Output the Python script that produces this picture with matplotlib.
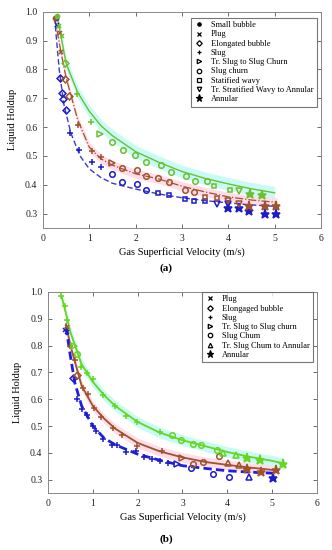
#!/usr/bin/env python3

"""Liquid holdup vs gas superficial velocity, two panels (a) and (b)."""

import matplotlib.pyplot as plt

plt.rcParams["font.family"] = ["Liberation Serif", "DejaVu Serif"]

BLUE = "#1c1cc8"
BROWN = "#a0522d"
GREEN_A = "#6cbf2e"
GREEN_B = "#66d61e"
CYAN_BAND = "#c8fbf6"
PINK_BAND = "#ffdce9"

# ---------------- panel (a) data ----------------
a_green_curve_x = [0.3, 0.5, 0.75, 1.0, 1.25, 1.5, 2.0, 2.5, 3.0, 3.5, 4.0, 4.5, 5.0]
a_green_curve_y = [0.99, 0.82, 0.72, 0.655, 0.605, 0.57, 0.515, 0.478, 0.446, 0.422, 0.403, 0.386, 0.372]
a_brown_curve_x = [0.25, 0.4, 0.5, 0.75, 1.0, 1.25, 1.5, 2.0, 2.5, 3.0, 3.5, 4.0, 4.5, 5.05]
a_brown_curve_y = [0.98, 0.85, 0.77, 0.625, 0.53, 0.49, 0.468, 0.438, 0.42, 0.395, 0.375, 0.358, 0.347, 0.339]
a_blue_curve_x = [0.25, 0.35, 0.45, 0.6, 0.8, 1.0, 1.25, 1.5, 2.0, 2.5, 3.0, 3.5, 4.0, 4.5, 5.03]
a_blue_curve_y = [0.98, 0.8, 0.68, 0.58, 0.5, 0.455, 0.425, 0.405, 0.385, 0.368, 0.355, 0.345, 0.337, 0.33, 0.325]

a_blue = {
    "o_small": ([0.29], [0.978]),
    "x": ([0.3], [0.955]),
    "D": ([0.37, 0.4, 0.44, 0.5], [0.772, 0.719, 0.696, 0.661]),
    "+": ([0.58, 0.78, 1.05, 1.25], [0.578, 0.52, 0.478, 0.46]),
    "o": ([1.5, 1.7, 2.03, 2.22], [0.438, 0.411, 0.402, 0.382]),
    "s": ([2.49, 2.71, 3.07, 3.27, 3.49], [0.37, 0.366, 0.35, 0.344, 0.342]),
    "v": ([3.75, 3.99], [0.332, 0.333]),
    "*": ([3.99, 4.23, 4.44, 4.79, 5.03], [0.32, 0.32, 0.31, 0.3, 0.3]),
}
a_brown = {
    "o_small": ([0.27], [0.98]),
    "x": ([0.37, 0.38], [0.927, 0.86]),
    "D": ([0.48, 0.57], [0.767, 0.708]),
    "+": ([0.75, 1.05, 1.25], [0.606, 0.517, 0.498]),
    ">": ([1.5], [0.476]),
    "o": ([1.7, 2.03, 2.22, 2.48, 2.71, 3.07, 3.27], [0.459, 0.45, 0.43, 0.423, 0.411, 0.382, 0.376]),
    "s": ([3.49, 3.75], [0.359, 0.354]),
    "v": ([3.99, 4.23], [0.344, 0.332]),
    "*": ([4.44, 4.79, 5.03], [0.327, 0.327, 0.327]),
}
a_green = {
    "o_small": ([0.31], [0.987]),
    "x": ([0.35, 0.4], [0.95, 0.916]),
    "D": ([0.48], [0.821]),
    "+": ([0.73, 1.04], [0.714, 0.618]),
    ">": ([1.23], [0.577]),
    "o": ([1.49, 1.72, 1.98, 2.22, 2.55, 2.77, 3.09, 3.29, 3.55],
          [0.548, 0.519, 0.502, 0.48, 0.468, 0.444, 0.432, 0.414, 0.414]),
    "s": ([3.69, 4.04], [0.395, 0.383]),
    "v": ([4.23], [0.377]),
    "*": ([4.48, 4.73], [0.368, 0.366]),
}
a_legend = [
    ("o_small", "Small bubble"), ("x", "Plug"), ("D", "Elongated bubble"),
    ("+", "Slug"), (">", "Tr. Slug to Slug Churn"), ("o", "Slug churn"),
    ("s", "Statified wavy"), ("v", "Tr. Stratified Wavy to Annular"), ("*", "Annular"),
]

# ---------------- panel (b) data ----------------
b_green_curve_x = [0.3, 0.4, 0.5, 0.75, 1.0, 1.25, 1.5, 2.0, 2.5, 3.0, 3.5, 4.0, 4.5, 5.0, 5.27]
b_green_curve_y = [0.985, 0.92, 0.85, 0.73, 0.665, 0.615, 0.575, 0.515, 0.475, 0.447, 0.425, 0.403, 0.385, 0.37, 0.36]
b_brown_curve_x = [0.4, 0.5, 0.75, 1.0, 1.25, 1.5, 2.0, 2.5, 3.0, 3.5, 4.0, 4.5, 5.07]
b_brown_curve_y = [0.88, 0.8, 0.65, 0.575, 0.528, 0.49, 0.437, 0.405, 0.383, 0.366, 0.355, 0.345, 0.335]
b_blue_curve_x = [0.4, 0.5, 0.6, 0.75, 1.0, 1.25, 1.5, 2.0, 2.5, 3.0, 3.5, 4.0, 4.5, 5.03]
b_blue_curve_y = [0.87, 0.76, 0.66, 0.575, 0.5, 0.455, 0.43, 0.395, 0.372, 0.352, 0.342, 0.333, 0.328, 0.324]

b_blue = {
    "x": ([0.38, 0.42], [0.86, 0.85]),
    "D": ([0.55], [0.68]),
    "+": ([0.65, 0.75, 0.87, 1.01, 1.06, 1.22, 1.42, 1.55, 1.75, 1.97, 2.14, 2.31, 2.5, 2.68],
          [0.6, 0.565, 0.54, 0.5, 0.48, 0.45, 0.43, 0.43, 0.403, 0.405, 0.383, 0.376, 0.368, 0.362]),
    ">": ([2.87], [0.357]),
    "o": ([3.2, 3.69, 4.04], [0.344, 0.321, 0.31]),
    "^": ([4.49], [0.308]),
    "*": ([5.01], [0.305]),
}
b_brown = {
    "x": ([0.42], [0.87]),
    "D": ([0.64], [0.69]),
    "+": ([0.49, 0.6, 0.78, 0.9, 1.03, 1.19, 1.45, 1.66, 1.99, 2.55],
          [0.797, 0.748, 0.642, 0.619, 0.568, 0.535, 0.492, 0.466, 0.426, 0.405]),
    ">": ([3.0], [0.382]),
    "o": ([3.23, 3.45, 3.82], [0.359, 0.365, 0.389]),
    "^": ([4.02, 4.27], [0.362, 0.353]),
    "*": ([4.44, 4.76, 5.09], [0.341, 0.33, 0.335]),
}
b_green = {
    "+": ([0.3, 0.38, 0.42, 0.73, 0.86, 1.01, 1.22, 1.49, 1.74, 1.98, 2.5],
          [0.985, 0.946, 0.896, 0.721, 0.699, 0.674, 0.615, 0.575, 0.538, 0.516, 0.477]),
    ">": ([0.57], [0.8]),
    "o": ([0.64, 2.77, 2.96, 3.24, 3.41, 3.76], [0.77, 0.466, 0.449, 0.434, 0.43, 0.41]),
    "^": ([3.91, 4.2], [0.4, 0.39]),
    "*": ([4.43, 4.73, 5.24], [0.381, 0.374, 0.359]),
}
b_legend = [
    ("x", "Plug"), ("D", "Elongaged bubble"), ("+", "Slug"),
    (">", "Tr. Slug to Slug churn"), ("o", "Slug Chum"),
    ("^", "Tr. Slug Chum to Annular"), ("*", "Annular"),
]

MARKER_STYLE = {
    "o_small": dict(marker="o", ms=3, filled=True),
    "x": dict(marker="x", ms=3.5, filled=True),
    "D": dict(marker="D", ms=3.5, filled=False),
    "+": dict(marker="+", ms=4, filled=True),
    ">": dict(marker=">", ms=4, filled=False),
    "o": dict(marker="o", ms=4, filled=False),
    "s": dict(marker="s", ms=3.5, filled=False),
    "v": dict(marker="v", ms=4, filled=False),
    "^": dict(marker="^", ms=4, filled=False),
    "*": dict(marker="*", ms=6.5, filled=True),
}


def draw_markers(ax, groups, color):
    for key, (xs, ys) in groups.items():
        st = MARKER_STYLE[key]
        ax.plot(xs, ys, linestyle="none", marker=st["marker"], ms=st["ms"],
                mec=color, mfc=color if st["filled"] else "none", mew=1.1, zorder=4)


def style_axes(ax):
    ax.set_xlim(0, 6)
    ax.set_ylim(0.25, 1.0)
    ax.set_xticks(range(0, 7))
    ax.set_yticks([0.3, 0.4, 0.5, 0.6, 0.7, 0.8, 0.9, 1.0])
    ax.set_yticklabels(["0.3", "0.4", "0.5", "0.6", "0.7", "0.8", "0.9", "1.0"])
    ax.tick_params(direction="in", top=True, right=True, labelsize=7, length=3,
                   width=0.6, colors="#555555", labelcolor="#222222", pad=4)
    for sp in ax.spines.values():
        sp.set_color("#888888")
        sp.set_linewidth(0.7)
    ax.set_xlabel("Gas Superficial Velocity (m/s)", fontsize=7.5, labelpad=3)
    ax.set_ylabel("Liquid Holdup", fontsize=7.5, labelpad=6)


def add_legend(ax, entries, loc_anchor):
    handles = []
    for key, label in entries:
        st = MARKER_STYLE[key]
        h, = ax.plot([], [], linestyle="none", marker=st["marker"],
                     ms=st["ms"] * 0.8, mec="black",
                     mfc="black" if st["filled"] else "none", mew=0.9, label=label)
        handles.append(h)
    leg = ax.legend(handles=handles, loc="upper right", bbox_to_anchor=loc_anchor,
                    fontsize=6, frameon=True, fancybox=False, handlelength=1.2,
                    handletextpad=0.8, borderpad=0.4, labelspacing=0.15,
                    borderaxespad=0.0)
    leg.get_frame().set_edgecolor("#555555")
    leg.get_frame().set_linewidth(0.8)


fig = plt.figure(figsize=(3.32, 5.50), dpi=100)

# ---- (a) ----
ax1 = fig.add_axes([0.1295, 0.5855, 0.837, 0.393])
ax1.fill_between(a_green_curve_x, [y - 0.022 for y in a_green_curve_y],
                 [y + 0.022 for y in a_green_curve_y], color=CYAN_BAND, lw=0, zorder=1)
ax1.fill_between(a_brown_curve_x, [y - 0.016 for y in a_brown_curve_y],
                 [y + 0.016 for y in a_brown_curve_y], color=PINK_BAND, lw=0, zorder=1)
ax1.plot(a_green_curve_x, a_green_curve_y, color=GREEN_A, lw=1.0, zorder=3)
ax1.plot(a_brown_curve_x, a_brown_curve_y, color=BROWN, lw=0.9, ls="-.", zorder=3)
ax1.plot(a_blue_curve_x, a_blue_curve_y, color="#3a3ad0", lw=1.0, ls=(0, (4, 2)), zorder=3)
draw_markers(ax1, a_blue, BLUE)
draw_markers(ax1, a_brown, BROWN)
draw_markers(ax1, a_green, GREEN_A)
style_axes(ax1)
add_legend(ax1, a_legend, (0.985, 0.972))
fig.text(0.5, 0.512, "(a)", ha="center", va="center", fontsize=8, fontweight="bold")

# ---- (b) ----
ax2 = fig.add_axes([0.1446, 0.1036, 0.810, 0.3655])
ax2.fill_between(b_green_curve_x, [y - 0.02 for y in b_green_curve_y],
                 [y + 0.02 for y in b_green_curve_y], color=CYAN_BAND, lw=0, zorder=1)
ax2.fill_between(b_brown_curve_x, [y - 0.018 for y in b_brown_curve_y],
                 [y + 0.018 for y in b_brown_curve_y], color=PINK_BAND, lw=0, zorder=1)
ax2.plot(b_green_curve_x, b_green_curve_y, color=GREEN_B, lw=1.3, zorder=3)
ax2.plot(b_brown_curve_x, b_brown_curve_y, color=BROWN, lw=1.3, zorder=3)
ax2.plot(b_blue_curve_x, b_blue_curve_y, color="#1f1fe0", lw=2.0, ls=(0, (3, 1.5)), zorder=3)
draw_markers(ax2, b_blue, BLUE)
draw_markers(ax2, b_brown, BROWN)
draw_markers(ax2, b_green, GREEN_B)
style_axes(ax2)
add_legend(ax2, b_legend, (0.985, 1.0))
fig.text(0.5, 0.02, "(b)", ha="center", va="center", fontsize=8, fontweight="bold")

fig.savefig("out.png", dpi=100)
